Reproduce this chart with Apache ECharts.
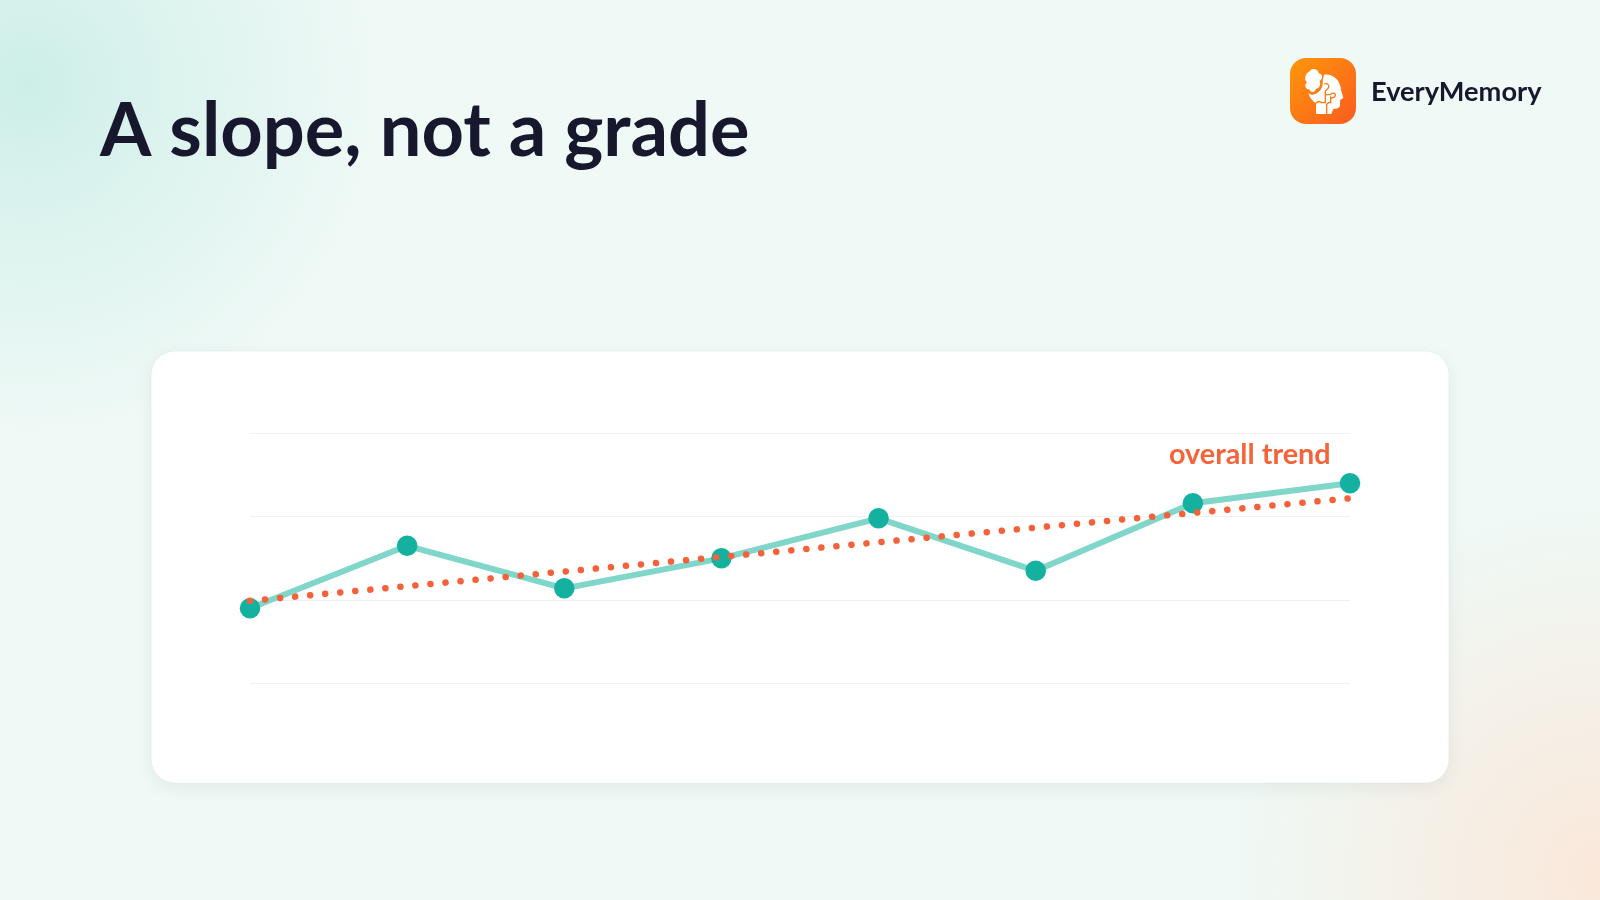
<!DOCTYPE html>
<html><head><meta charset="utf-8">
<style>html,body{margin:0;padding:0;background:#eff9f6}#c{width:1600px;height:900px}</style>
<script src="https://cdn.jsdelivr.net/npm/echarts@6/dist/echarts.min.js"></script>
</head><body><div id="c"></div>
<script>
const categories = ['1','2','3','4','5','6','7','8'];
const scores = [90,165,114,150,198,135,216,240];
const trend = [99,null,null,null,null,null,null,222];
const yTicks = [0,100,200,300];
const titleText = 'A slope, not a grade';
const brandText = 'EveryMemory';
const trendLabel = 'overall trend';
const FONT = 'Lato';
const iconSvg = `<svg xmlns="http://www.w3.org/2000/svg" viewBox="0 0 198 198">
<path fill="#fff" d="M60 38C68 28 85 34 86 46C100 48 99 64 89 68C93 80 88 92 78 92C74 106 60 104 58 94C44 94 42 76 52 74C40 66 46 44 60 40Z"/>
<path fill="#fff" d="M102 50C130 46 152 68 153 96L160 120L150 126L150 142C150 150 142 153 130 153L124 168L78 168L78 136C66 128 58 118 55 104C62 112 72 112 80 106C90 100 98 90 98 76C98 66 100 58 102 52Z"/>
<path fill="none" stroke="#fb7a14" stroke-width="4" d="M102 78C112 74 118 80 116 88C114 94 108 96 106 100L106 110L122 110C124 103 136 104 136 112C136 120 124 120 122 118L122 134C114 132 108 138 110 146L110 168M78 136C84 128 92 130 94 134L106 134L106 110"/>
</svg>`;
const iconUrl = 'data:image/svg+xml;charset=utf-8,' + encodeURIComponent(iconSvg);
const chart = echarts.init(document.getElementById('c'),null,{renderer:'canvas'});
chart.setOption({
  animation:false,
  backgroundColor:'#eff9f6',
  title:[
    {text:titleText,left:100,top:95,padding:0,textStyle:{fontFamily:FONT,fontWeight:700,fontSize:74,color:'#17172e'}},
    {text:brandText,left:1371,top:79,padding:0,textStyle:{fontFamily:FONT,fontWeight:700,fontSize:27.2,color:'#17172e'}},
    {text:trendLabel,left:1169,top:440,padding:0,textStyle:{fontFamily:FONT,fontWeight:700,fontSize:28.8,color:'#f4643a'}}
  ],
  grid:{left:250,right:250,top:433.33,bottom:216.67},
  xAxis:{type:'category',data:categories,boundaryGap:false,axisLine:{show:false},axisTick:{show:false},axisLabel:{show:false},splitLine:{show:false}},
  yAxis:{type:'value',min:yTicks[0],max:yTicks[3],interval:100,axisLine:{show:false},axisTick:{show:false},axisLabel:{show:false},splitLine:{show:true,lineStyle:{color:'#eef1f3',width:1}}},
  series:[
    {type:'line',data:scores,symbol:'circle',symbolSize:20.5,z:3,itemStyle:{color:'#14b1a0'},lineStyle:{color:'#7fd6c9',width:6}},
    {type:'line',data:trend,connectNulls:true,showSymbol:false,symbol:'none',z:4,lineStyle:{color:'#f4613a',width:6.5,type:[0.1,15],cap:'round'}}
  ],
  graphic:[
    {type:'rect',z:-10,silent:true,shape:{x:0,y:0,width:1600,height:900},style:{fill:'#eff9f6'}},
    {type:'rect',z:-9,silent:true,shape:{x:0,y:0,width:900,height:700},style:{fill:{type:'radial',x:0.03,y:0.12,r:0.5,colorStops:[{offset:0,color:'rgba(205,238,232,1)'},{offset:0.5,color:'rgba(210,240,234,0.55)'},{offset:1,color:'rgba(210,240,234,0)'}]}}},
    {type:'rect',z:-9,silent:true,shape:{x:900,y:400,width:700,height:500},style:{fill:{type:'radial',x:1,y:0.95,r:0.75,colorStops:[{offset:0,color:'rgba(250,232,218,1)'},{offset:1,color:'rgba(250,232,218,0)'}]}}},
    {type:'rect',z:-5,silent:true,shape:{x:151,y:351,width:1298,height:432,r:24},style:{fill:'#fff',stroke:'rgba(225,235,235,0.6)',lineWidth:1,shadowBlur:18,shadowColor:'rgba(20,60,60,0.07)',shadowOffsetY:5}},
    {type:'rect',z:5,silent:true,shape:{x:1290,y:58,width:66,height:66,r:16},style:{fill:{type:'linear',x:0,y:0,x2:1,y2:1,colorStops:[{offset:0,color:'#ff970a'},{offset:1,color:'#f95c20'}]}}},
    {type:'image',z:6,silent:true,style:{image:iconUrl,x:1290,y:58,width:66,height:66}}
  ]
});
</script></body></html>
